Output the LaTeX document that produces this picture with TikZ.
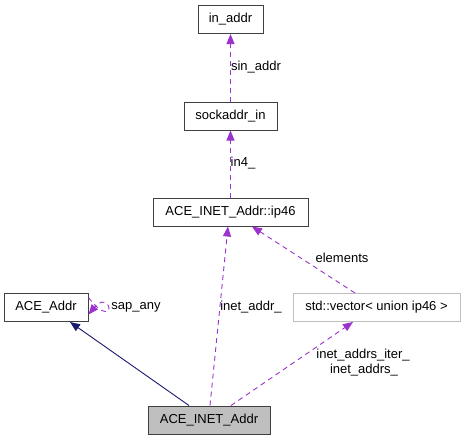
\documentclass[tikz,border=0pt]{standalone}
\usepackage{fontspec}
\setmainfont{Liberation Sans}
\usetikzlibrary{arrows.meta}
\definecolor{dep}{HTML}{9A32CD}
\definecolor{inh}{HTML}{191970}
\definecolor{boxline}{HTML}{404040}
\definecolor{lightline}{HTML}{BFBFBF}
\begin{document}
\begin{tikzpicture}[x=1pt,y=-1pt,
  font=\fontsize{13}{15}\selectfont,
  cls/.style={draw=boxline,line width=1pt,fill=white,inner sep=0pt,minimum height=28pt,anchor=center},
  depedge/.style={draw=dep,line width=0.9pt,dash pattern=on 5pt off 4pt,-{Triangle[length=10pt,width=8pt,fill=dep]}},
  inhedge/.style={draw=inh,line width=0.9pt,-{Triangle[length=10pt,width=8pt,fill=inh]}},
  lbl/.style={inner sep=0pt,anchor=center}]
\useasboundingbox (0,0) rectangle (465,440);
\node[cls,minimum width=65pt] (inaddr) at (230.5,19.5) {in\_addr};
\node[cls,minimum width=93pt] (sock) at (230.5,116) {sockaddr\_in};
\node[cls,minimum width=155pt] (ip46) at (230.5,212) {ACE\_INET\_Addr::ip46};
\node[cls,minimum width=84pt] (aceaddr) at (46,307.5) {ACE\_Addr};
\node[cls,draw=lightline,minimum width=167pt] (vec) at (376.5,307.5) {std::vector< union ip46 >};
\node[cls,fill=lightline,minimum width=122pt] (inet) at (209,420) {ACE\_INET\_Addr};

\coordinate (inhS) at ([xshift=-20pt]inet.north);
\coordinate (inhT) at ([xshift=24pt]aceaddr.south);
\draw[inhedge] (inhS) -- (inhT);

\coordinate (iaS) at ([xshift=1pt]inet.north);
\coordinate (iaT) at ([xshift=-2.5pt]ip46.south);
\draw[depedge] (iaS) -- (iaT) node[lbl] at (251,307) {inet\_addr\_};

\coordinate (elS) at ([xshift=-21.5pt]vec.north);
\coordinate (elT) at ([xshift=21.5pt]ip46.south);
\draw[depedge] (elS) -- (elT) node[lbl] at (342,258) {elements};

\coordinate (itS) at ([xshift=22pt]inet.north);
\coordinate (itT) at ([xshift=-23.5pt]vec.south);
\draw[depedge] (itS) -- (itT);
\node[lbl] (lit) at (363,355) {inet\_addrs\_iter\_};
\node[lbl] (lia) at (364,370.5) {inet\_addrs\_};

\draw[depedge] (sock.north) -- (inaddr.south) node[lbl] at (256,67) {sin\_addr};
\draw[depedge] (ip46.north) -- (sock.south) node[lbl] at (243,163) {in4\_};

\coordinate (saS) at ([yshift=10pt]aceaddr.east);
\coordinate (saT) at ([yshift=-7pt]aceaddr.east);
\draw[depedge] (saS) .. controls (104,318) and (112,312) .. (108,305) .. controls (105,301) and (100,300.5) .. (saT);
\node[lbl] (lsa) at (136,307) {sap\_any};
\end{tikzpicture}
\end{document}
